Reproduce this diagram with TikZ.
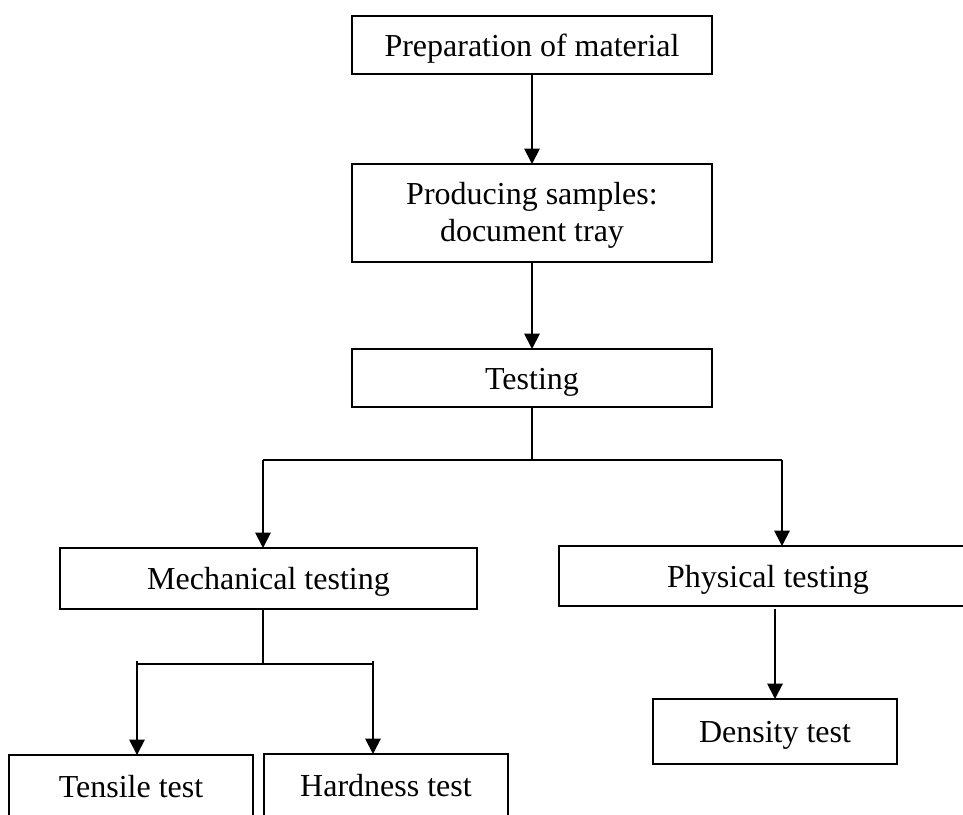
\documentclass[tikz,border=0pt]{standalone}
\usepackage{fontspec}
\setmainfont{Liberation Serif}
\usetikzlibrary{arrows.meta}
\begin{document}
\begin{tikzpicture}[x=0.75pt,y=-0.75pt,
  box/.style={draw,line width=1.4pt,rectangle,inner sep=0pt,outer sep=0pt,
    align=center,text height=16.5pt,text depth=0pt,
    font=\fontsize{24}{27.75}\selectfont},
  conn/.style={line width=1.4pt},
  arr/.style={line width=1.4pt,-{Triangle[width=11.5pt,length=11.5pt]}}]
\useasboundingbox (0,0) rectangle (963,814);
\clip (0,0) rectangle (963,814);
\node[box,minimum width=270pt,minimum height=43.5pt] (prep) at (532,45) {Preparation of material};
\node[box,minimum width=270pt,minimum height=73.5pt,text height=42pt] (prod) at (532,213) {Producing samples:\\document tray};
\node[box,minimum width=270pt,minimum height=43.5pt] (test) at (532,378) {Testing};
\node[box,minimum width=312.75pt,minimum height=45.75pt] (mech) at (268.5,578.5) {Mechanical testing};
\node[box,minimum width=313.5pt,minimum height=45pt] (phys) at (768,576) {Physical testing};
\node[box,minimum width=183pt,minimum height=48.75pt] (dens) at (775,731.5) {Density test};
\node[box,minimum width=183pt,minimum height=46.5pt] (tens) at (131,786) {Tensile test};
\node[box,minimum width=183pt,minimum height=46.5pt] (hard) at (386,785) {Hardness test};
% coordinates
\coordinate (tj) at (532,460);
\coordinate (jl) at (263,460);
\coordinate (jr) at (782,460);
\coordinate (ms) at (263,609);
\coordinate (mj) at (263,664);
\coordinate (ml) at (136,664);
\coordinate (mr) at (373,664);
\coordinate (mla) at (137,661);
\coordinate (mra) at (373,661);
\coordinate (ps) at (775,609);
% connectors
\draw[arr] (prep.south) -- (prod.north);
\draw[arr] (prod.south) -- (test.north);
\draw[conn] (test.south) -- (tj);
\draw[conn] (jl) -- (jr);
\draw[arr] (jl) -- (jl |- mech.north);
\draw[arr] (jr) -- (jr |- phys.north);
\draw[conn] (ms) -- (mj);
\draw[conn] (ml) -- (mr);
\draw[arr] (mla) -- (mla |- tens.north);
\draw[arr] (mra) -- (mra |- hard.north);
\draw[arr] (ps) -- (dens.north);
\end{tikzpicture}
\end{document}
